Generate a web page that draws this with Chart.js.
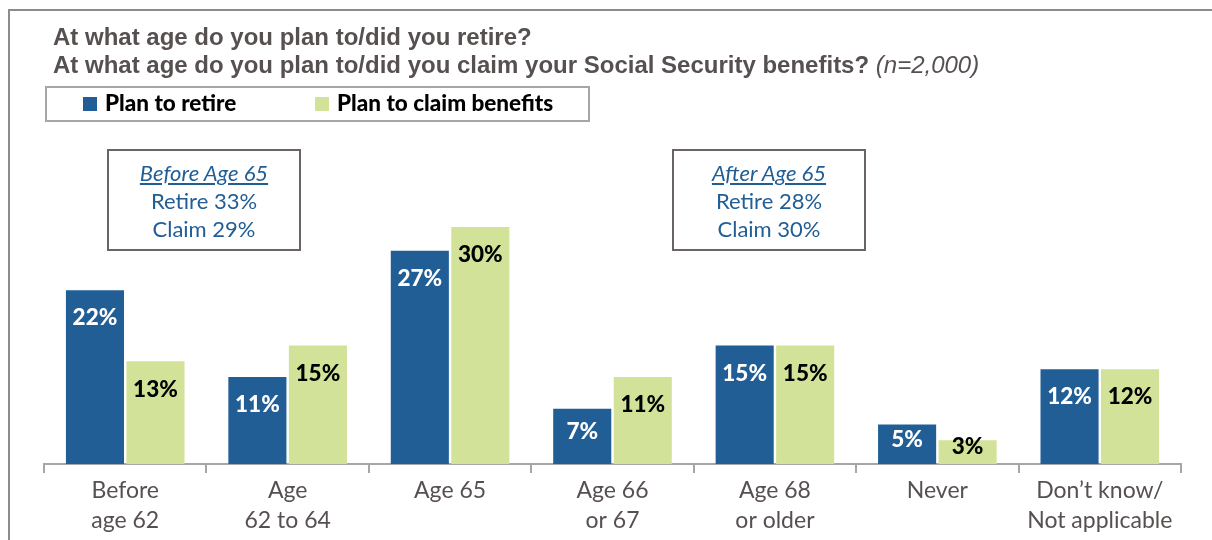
<!DOCTYPE html>
<html>
<head>
<meta charset="utf-8">
<script src="https://cdn.jsdelivr.net/npm/chart.js@4.4.0/dist/chart.umd.min.js"></script>
<style>
  body { margin: 0; background: #fff; width: 1212px; height: 540px; overflow: hidden; position: relative; font-family: Lato, sans-serif; }
  #frame { position: absolute; left: 8px; top: 9px; width: 1300px; height: 600px; border: 2px solid #8c8c8c; box-sizing: border-box; }
  canvas { position: absolute; left: 0; top: 0; }
  .title { position: absolute; left: 53px; top: 23px; font: bold 24px "Liberation Sans", Arial, sans-serif; color: #575050; line-height: 28px; white-space: nowrap; }
  .title i { font-weight: normal; }
  .legend { position: absolute; left: 45px; top: 86px; width: 545px; height: 36px; border: 2px solid #a6a6a6; box-sizing: border-box; }
  .legend .item { position: absolute; top: 1px; font: 900 22.5px Lato, sans-serif; color: #000; white-space: nowrap; }
  .sw { display: inline-block; width: 14px; height: 14px; margin-right: 8px; vertical-align: 0px; }
  .note { position: absolute; top: 149px; width: 194px; height: 102px; border: 2px solid #6b6464; box-sizing: border-box; text-align: center; color: #215e95; font-size: 22px; line-height: 28px; padding-top: 8px; }
  .note u { font-style: italic; }
</style>
</head>
<body>
<div id="frame"></div>
<canvas id="myChart" width="1212" height="540"></canvas>

<div class="title">At what age do you plan to/did you retire?<br>At what age do you plan to/did you claim your Social Security benefits? <i>(n=2,000)</i></div>

<div class="legend">
  <span class="item" style="left:36px"><span class="sw" style="background:#215e95"></span>Plan to retire</span>
  <span class="item" style="left:268px"><span class="sw" style="background:#d2e298"></span>Plan to claim benefits</span>
</div>

<div class="note" style="left:107px"><u>Before Age 65</u><br>Retire 33%<br>Claim 29%</div>
<div class="note" style="left:672px"><u>After Age 65</u><br>Retire 28%<br>Claim 30%</div>

<script>
var categories = [['Before', 'age 62'], ['Age', '62 to 64'], 'Age 65', ['Age 66', 'or 67'], ['Age 68', 'or older'], 'Never', ['Don\u2019t know/', 'Not applicable']];
var planRetire = [22, 11, 27, 7, 15, 5, 12];
var planClaim = [13, 15, 30, 11, 15, 3, 12];

// value labels inside the top of each bar
var barLabels = {
  id: 'barLabels',
  afterDatasetsDraw: function(chart) {
    var ctx = chart.ctx;
    ctx.save();
    ctx.font = '900 22.5px Lato';
    ctx.textAlign = 'center';
    ctx.textBaseline = 'middle';
    chart.data.datasets.forEach(function(ds, i) {
      chart.getDatasetMeta(i).data.forEach(function(bar, j) {
        var h = bar.base - bar.y;
        var off = Math.min(28, h / 2 - 5);
        ctx.fillStyle = ds.labelColor;
        ctx.fillText(ds.data[j] + '%', bar.x, bar.y + off);
      });
    });
    ctx.restore();
  }
};

function charts() {
  var ctx = document.getElementById('myChart').getContext('2d');
  var myChart = new Chart(ctx, {
    type: 'bar',
    data: {
      labels: categories,
      datasets: [{
        label: 'Plan to retire',
        backgroundColor: '#215e95',
        labelColor: '#ffffff',
        data: planRetire
      },
      {
        label: 'Plan to claim benefits',
        backgroundColor: '#d2e298',
        labelColor: '#000000',
        data: planClaim
      }]
    },
    options: {
      responsive: false,
      animation: false,
      devicePixelRatio: 1,
      events: [],
      barPercentage: 0.96,
      categoryPercentage: 0.745,
      layout: { padding: { left: 44, right: 31, top: 148, bottom: 0 } },
      plugins: { legend: { display: false }, tooltip: { enabled: false } },
      scales: {
        y: { display: false, min: 0, max: 40 },
        x: {
          grid: { drawOnChartArea: false, drawTicks: true, tickLength: 9, color: '#a6a6a6', lineWidth: 2 },
          border: { color: '#a6a6a6', width: 2 },
          ticks: { font: { family: 'Lato', size: 23, lineHeight: 1.3 }, color: '#575050', padding: 3, maxRotation: 0, autoSkip: false },
          afterFit: function(scale) { scale.height = 76; }
        }
      }
    },
    plugins: [barLabels]
  });
}

charts();
</script>
</body>
</html>
